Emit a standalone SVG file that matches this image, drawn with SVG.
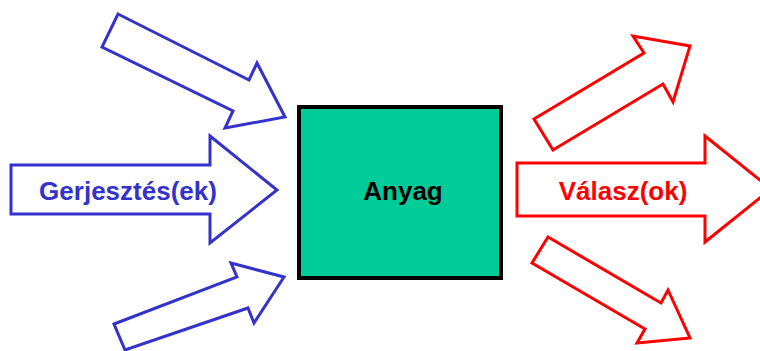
<svg xmlns="http://www.w3.org/2000/svg" width="760" height="351" viewBox="0 0 760 351">
  <style>
    .in { fill: #ffffff; stroke: #3333cc; stroke-width: 3; stroke-linejoin: miter; }
    .out { fill: #ffffff; stroke: #ff0000; stroke-width: 3; stroke-linejoin: miter; }
    .lbl { font-family: "Liberation Sans", Arial, sans-serif; font-weight: bold; font-size: 26px; text-anchor: middle; }
  </style>
  <rect width="760" height="351" fill="#ffffff"/>
  <g id="connectors">
    <g id="input-top">
      <polygon class="in" points="118,14 249,80 257,63 285,117 225,128 233,111 102,47"/>
    </g>
    <g id="input-middle">
      <polygon class="in" points="11,165 210,165 210,136 277,190 210,243 210,214 11,214"/>
      <text class="lbl" x="128" y="200" fill="#3333cc">Gerjesztés(ek)</text>
    </g>
    <g id="input-bottom">
      <polygon class="in" points="114,324 237,277 231,263 284,277 254,323 248,308 125,350"/>
    </g>
    <g id="output-top">
      <polygon class="out" points="534,119 644,53 633,36 690,46 673,102 663,84 553,150"/>
    </g>
    <g id="output-middle">
      <polygon class="out" points="517,163 705,163 705,136 771,189 705,242 705,216 517,216"/>
      <text class="lbl" x="623" y="200" fill="#ff0000">Válasz(ok)</text>
    </g>
    <g id="output-bottom">
      <polygon class="out" points="548,237 661,303 668,290 690,338 637,343 645,329 532,263"/>
    </g>
  </g>
  <g id="anyag">
    <rect x="299" y="107" width="202" height="171" fill="#00cc99" stroke="#000000" stroke-width="4"/>
    <text class="lbl" x="403" y="200" fill="#000000">Anyag</text>
  </g>
</svg>
